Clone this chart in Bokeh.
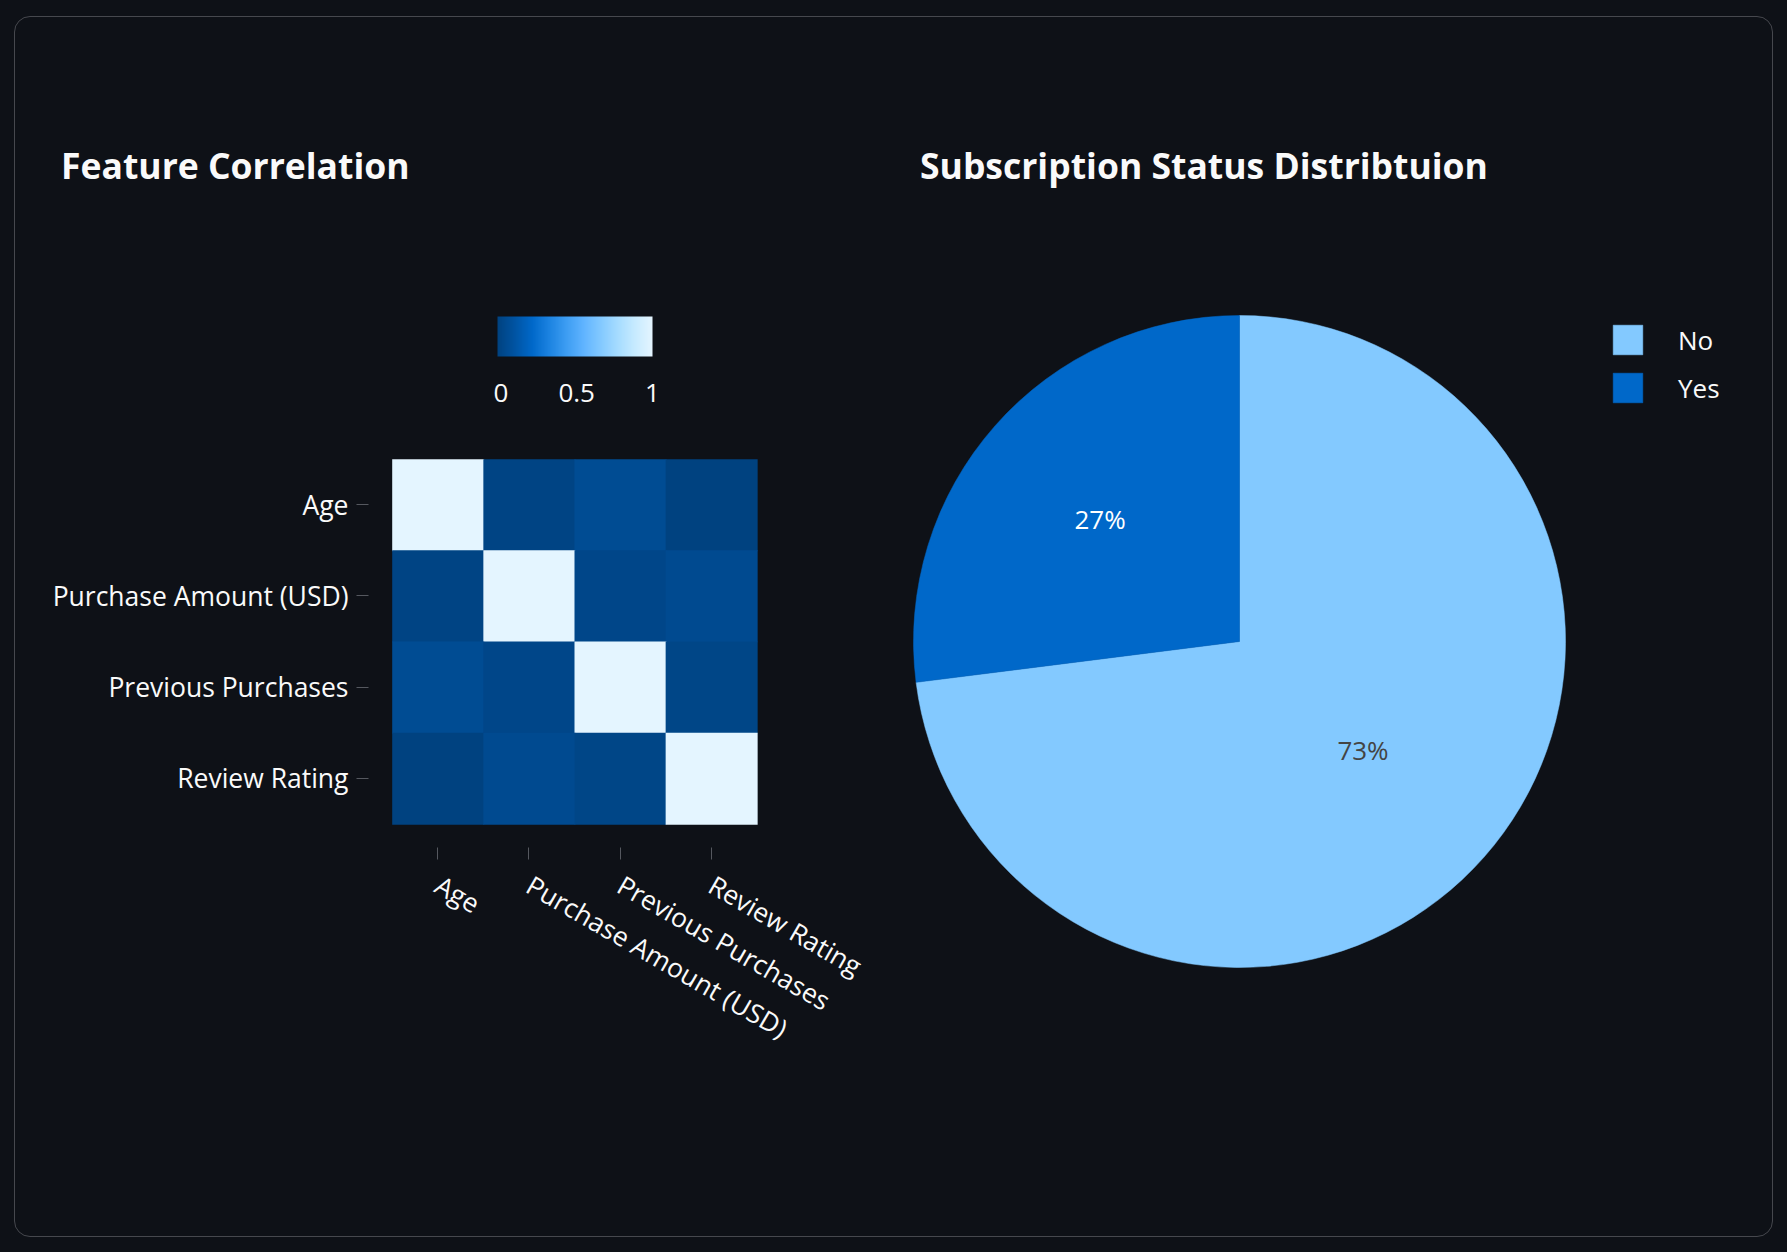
import math
import numpy as np
from bokeh.plotting import figure
from bokeh.layouts import row, column
from bokeh.models import (ColumnDataSource, FactorRange, Range1d, LinearColorMapper, ColorBar,
                          FixedTicker, Legend, LegendItem, Div, GlobalInlineStyleSheet)
from bokeh.core.properties import value
from bokeh.embed import file_html
from bokeh.resources import INLINE

# ---------------- data ----------------
features = ["Age", "Purchase Amount (USD)", "Previous Purchases", "Review Rating"]
corr_age = [1.0, -0.010, 0.040, -0.022]
corr_purchase = [-0.010, 1.0, 0.008, 0.031]
corr_previous = [0.040, 0.008, 1.0, 0.004]
corr_review = [-0.022, 0.031, 0.004, 1.0]
colorbar_ticks = [0, 0.5, 1]

status = ["No", "Yes"]
status_counts = [2847, 1053]
status_colors = ["#83c9ff", "#0068c9"]
status_text_colors = ["#444444", "#ffffff"]

title_left = "Feature Correlation"
title_right = "Subscription Status Distribtuion"

blues = ["#004280", "#0054a3", "#0068c9", "#1c83e1", "#3d9df3",
         "#60b4ff", "#83c9ff", "#a6dcff", "#c7ebff", "#e4f5ff"]

BG = "#0e1117"
FG = "#fafafa"
FONT = "Open Sans"

# ---------------- palette ----------------
def h2rgb(h):
    h = h.lstrip("#")
    return [int(h[i:i + 2], 16) for i in (0, 2, 4)]

stops = np.array([h2rgb(c) for c in blues], dtype=float)
pos = np.linspace(0, 1, len(blues))
t = np.linspace(0, 1, 256)
palette = []
for tt in t:
    rgb = [np.interp(tt, pos, stops[:, k]) for k in range(3)]
    palette.append("#%02x%02x%02x" % tuple(int(round(v)) for v in rgb))

matrix = [corr_age, corr_purchase, corr_previous, corr_review]
xs, ys, vals = [], [], []
for i, rname in enumerate(features):
    for j, cname in enumerate(features):
        xs.append(cname)
        ys.append(rname)
        vals.append(matrix[i][j])
hm_src = ColumnDataSource(dict(x=xs, y=ys, v=vals))
mapper = LinearColorMapper(palette=palette, low=min(vals), high=max(vals))

# ---------------- layout constants ----------------
LW = 890                 # left column width
PW = 1757 - LW           # right column width
TH = 200                 # title strip height
H = 1219 - TH            # figure height
FL, FT, FW = 353, 418 - TH, 412   # heatmap frame left / top / size inside its canvas


def title_div(text, width, pad_left):
    html = ('<div style="padding: 131px 0 0 %dpx; font-family: \'Open Sans\'; font-weight: 700; '
            'font-size: 35.5px; line-height: 1; color: %s; white-space: nowrap;">%s</div>'
            % (pad_left, FG, text))
    return Div(text=html, width=width, height=TH, margin=0)

# ---------------- heatmap figure ----------------
ph = figure(width=LW, height=H,
            x_range=FactorRange(factors=features, range_padding=0.26, range_padding_units="absolute"),
            y_range=FactorRange(factors=list(reversed(features)), range_padding=0.26, range_padding_units="absolute"),
            output_backend="svg", toolbar_location=None,
            min_border_left=FL, min_border_right=LW - FL - FW, min_border_top=FT,
            min_border_bottom=H - FT - FW,
            background_fill_color=None, border_fill_color=None, outline_line_color=None)
ph.rect(x="x", y="y", width=1, height=1, source=hm_src,
        fill_color={"field": "v", "transform": mapper}, line_color=None, dilate=True)
ph.grid.visible = False
for ax in (ph.xaxis, ph.yaxis):
    ax.axis_line_color = None
    ax.major_tick_line_color = "#55585f"
    ax.major_tick_out = 12
    ax.major_tick_in = 0
    ax.major_label_text_font = FONT
    ax.major_label_text_font_size = "26.5px"
    ax.major_label_text_color = FG
    ax.major_label_standoff = 8
ph.xaxis.major_label_orientation = -math.pi / 6
ph.xaxis.major_label_standoff = 23

cb = ColorBar(color_mapper=mapper, orientation="horizontal", width=155, height=40,
              ticker=FixedTicker(ticks=colorbar_ticks),
              major_label_text_font=FONT, major_label_text_font_size="26px",
              major_label_text_color=FG, major_tick_line_color=None, major_tick_out=0,
              bar_line_color=None, border_line_color=None, background_fill_alpha=0,
              padding=0, margin=0, label_standoff=27, location=(129, 443))
ph.add_layout(cb, "center")

# ---------------- pie figure ----------------
S = 326.0
cxc, cyc = 1239 - 905, 641 - 17 - TH
pp = figure(width=PW, height=H,
            x_range=Range1d(-cxc / S, (PW - cxc) / S),
            y_range=Range1d(-(H - cyc) / S, cyc / S),
            x_axis_type=None, y_axis_type=None,
            output_backend="svg", toolbar_location=None, min_border=0,
            background_fill_color=None, border_fill_color=None, outline_line_color=None)
pp.grid.visible = False

total = float(sum(status_counts))
fr = [c / total for c in status_counts]
cum = np.concatenate([[0], np.cumsum(fr)])
starts = [math.pi / 2 - 2 * math.pi * cum[i] for i in range(len(fr))]
ends = [math.pi / 2 - 2 * math.pi * cum[i + 1] for i in range(len(fr))]
mids = [(a + b) / 2 for a, b in zip(starts, ends)]
label_r = [0.505, 0.57]
pie_src = ColumnDataSource(dict(
    status=status, start=starts, end=ends, color=status_colors,
    lx=[r * math.cos(m) for r, m in zip(label_r, mids)],
    ly=[r * math.sin(m) for r, m in zip(label_r, mids)],
    pct=["%d%%" % round(f * 100) for f in fr], tcolor=status_text_colors))
wr = pp.wedge(x=0, y=0, radius=1, start_angle="start", end_angle="end", direction="clock",
              fill_color="color", line_color="color", line_width=0.5, source=pie_src)
pp.text(x="lx", y="ly", text="pct", source=pie_src, text_align="center", text_baseline="middle",
        text_font=value(FONT), text_font_size=value("26px"), text_color="tcolor")

legend = Legend(items=[LegendItem(label=s, renderers=[wr], index=i) for i, s in enumerate(status)],
                location=(704, 830), glyph_width=37, glyph_height=37, label_standoff=32,
                spacing=11, padding=0, margin=0, border_line_color=None, background_fill_alpha=0,
                label_text_font=FONT, label_text_font_size="26px", label_text_color=FG)
pp.add_layout(legend, "center")

# ---------------- layout ----------------
titles = row(title_div(title_left, LW, 46), title_div(title_right, PW, 15), width=1757, height=TH)
figs = row(column(ph, width=LW, height=H), column(pp, width=PW, height=H), width=1757, height=H)
card = column(titles, figs, width=1759, height=1221, margin=(16, 0, 0, 14),
              styles={"border": "1px solid #46484e", "border-radius": "16px",
                      "box-sizing": "border-box", "background-color": BG, "overflow": "hidden"})
root = column(card, width=1787, height=1252, styles={"background-color": BG})
root.stylesheets = [GlobalInlineStyleSheet(css="html, body { background-color: #0e1117; }")]

open("out.html", "w").write(file_html(root, INLINE))
